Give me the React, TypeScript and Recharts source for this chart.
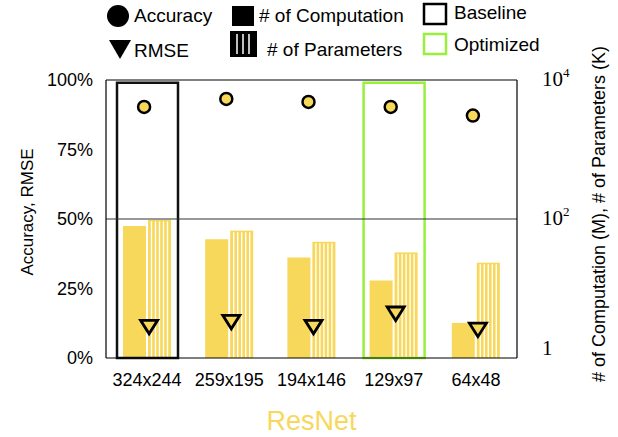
import React from 'react'
import { ComposedChart, Bar, Scatter, XAxis, YAxis, ReferenceLine, Cell } from 'recharts'

const resolutions = ['324x244', '259x195', '194x146', '129x97', '64x48']
const accuracy = [90.3, 93.2, 92.1, 90.3, 87.2]
const rmse = [11.2, 13.0, 11.2, 16.0, 10.2]
const computation = [79, 51, 28, 13, 3.2]
const parameters = [97, 68, 47, 33, 23.5]
const frameValues = [99, null, null, 99, null]
const frameColors = ['#111111', 'none', 'none', '#96F03C', 'none']
const leftTicks = [0, 25, 50, 75, 100]
const rightTicks = [1, 100, 10000]

const YELLOW = '#F8D85A'
const SANS = '"Liberation Sans", Arial, Helvetica, sans-serif'
const SERIF = '"Liberation Serif", "Times New Roman", serif'

const data = resolutions.map((res, i) => ({
  res,
  accuracy: accuracy[i],
  rmse: rmse[i],
  computation: computation[i],
  parameters: parameters[i],
  frame: frameValues[i],
}))

function StripedBar(props: any) {
  const { x, y, width, height } = props
  if (!height || height <= 0) return null
  const lines = []
  for (let lx = x + 3.5; lx < x + width - 2; lx += 4) {
    lines.push(<line key={lx} x1={lx} x2={lx} y1={y + 1.5} y2={y + height - 0.5} stroke="#fff" strokeWidth={1.4} />)
  }
  return (
    <g>
      <rect x={x} y={y} width={width} height={height} fill={YELLOW} />
      {lines}
    </g>
  )
}

function Dot(props: any) {
  const { cx, cy } = props
  return <circle cx={cx - 3} cy={cy} r={6} fill={YELLOW} stroke="#000" strokeWidth={2.5} />
}

function DownTriangle(props: any) {
  const { cx, cy } = props
  const x = cx + 2
  return (
    <polygon
      points={`${x - 8.5},${cy - 6.5} ${x + 8.5},${cy - 6.5} ${x},${cy + 7}`}
      fill={YELLOW}
      stroke="#000"
      strokeWidth={2.8}
      strokeLinejoin="miter"
    />
  )
}

function RightTick(props: any) {
  const { x, y, payload } = props
  const v = payload.value
  if (v === 1) {
    return (
      <text x={x} y={y - 3} fontFamily={SERIF} fontSize={21} fill="#000">1</text>
    )
  }
  const exp = Math.round(Math.log10(v))
  return (
    <text x={x} y={y + 6} fontFamily={SERIF} fontSize={21} fill="#000">
      10<tspan dy={-9} fontSize={13}>{exp}</tspan>
    </text>
  )
}

function Legend() {
  return (
    <svg width={618} height={62} style={{ position: 'absolute', left: 0, top: 0 }} fontFamily={SANS} fontSize={19}>
      <circle cx={118} cy={16} r={11} fill="#000" />
      <text x={134} y={22}>Accuracy</text>
      <polygon points="109,40 131,40 120,59" fill="#000" />
      <text x={134} y={57}>RMSE</text>

      <rect x={232} y={6} width={22} height={20} fill="#000" />
      <text x={259} y={22}># of Computation</text>
      <rect x={230} y={31} width={27} height={26} fill="#000" />
      {[237, 243, 249].map((lx) => (
        <line key={lx} x1={lx} x2={lx} y1={34} y2={54} stroke="#fff" strokeWidth={1.5} />
      ))}
      <text x={267} y={56}># of Parameters</text>

      <rect x={424} y={4} width={22} height={20} fill="none" stroke="#000" strokeWidth={2.5} />
      <text x={454} y={19}>Baseline</text>
      <rect x={424} y={34} width={22} height={20} fill="none" stroke="#96F03C" strokeWidth={2.5} />
      <text x={454} y={51}>Optimized</text>
    </svg>
  )
}

export default function App() {
  return (
    <div style={{ position: 'absolute', left: 0, top: 0, width: 618, height: 437, background: '#fff' }}>
      <ComposedChart
        width={618}
        height={437}
        data={data}
        margin={{ top: 80, right: 0, bottom: 0, left: 0 }}
        barSize={23}
        barGap={2}
      >
        <XAxis
          xAxisId="main"
          dataKey="res"
          type="category"
          interval={0}
          height={79}
          tickLine={false}
          tickSize={0}
          tickMargin={15}
          axisLine={{ stroke: '#000', strokeWidth: 1.2 }}
          tick={{ fontSize: 18, fill: '#000', fontFamily: SANS }}
          label={{ value: 'ResNet', position: 'insideBottom', offset: 7, fill: YELLOW, fontSize: 27, fontFamily: SANS }}
        />
        <XAxis xAxisId="frame" dataKey="res" type="category" orientation="top" height={0} hide />
        <YAxis
          yAxisId="left"
          type="number"
          domain={[0, 100]}
          ticks={leftTicks}
          tickFormatter={(v: number) => `${v}%`}
          width={106}
          tickLine={false}
          tickSize={0}
          tickMargin={13}
          axisLine={{ stroke: '#000', strokeWidth: 1.2 }}
          tick={{ fontSize: 18, fill: '#000', fontFamily: SANS }}
          label={{
            content: () => (
              <text transform="translate(33,212) rotate(-90)" textAnchor="middle" fontFamily={SANS} fontSize={17} fill="#000">
                Accuracy, RMSE
              </text>
            ),
          }}
        />
        <YAxis
          yAxisId="right"
          orientation="right"
          type="number"
          scale="log"
          domain={[1, 10000]}
          allowDataOverflow
          ticks={rightTicks}
          width={101}
          tickLine={false}
          tickSize={0}
          tickMargin={25}
          axisLine={{ stroke: '#000', strokeWidth: 1.2 }}
          tick={<RightTick />}
          label={{
            content: () => (
              <text transform="translate(605,214) rotate(-90)" textAnchor="middle" fontFamily={SANS} fontSize={18} fill="#000">
                # of Computation (M), # of Parameters (K)
              </text>
            ),
          }}
        />
        <ReferenceLine yAxisId="left" xAxisId="main" y={50} stroke="#333" strokeWidth={1.2} />
        <ReferenceLine yAxisId="left" xAxisId="main" y={100} stroke="#000" strokeWidth={1.2} />
        <Bar xAxisId="main" yAxisId="right" dataKey="computation" fill={YELLOW} isAnimationActive={false} />
        <Bar xAxisId="main" yAxisId="right" dataKey="parameters" shape={<StripedBar />} isAnimationActive={false} />
        <Bar xAxisId="frame" yAxisId="left" dataKey="frame" barSize={61} fill="none" strokeWidth={2.5} isAnimationActive={false}>
          {data.map((d, i) => (
            <Cell key={d.res} stroke={frameColors[i]} fill="none" />
          ))}
        </Bar>
        <Scatter xAxisId="main" yAxisId="left" dataKey="accuracy" shape={<Dot />} isAnimationActive={false} />
        <Scatter xAxisId="main" yAxisId="left" dataKey="rmse" shape={<DownTriangle />} isAnimationActive={false} />
      </ComposedChart>
      <Legend />
    </div>
  )
}
